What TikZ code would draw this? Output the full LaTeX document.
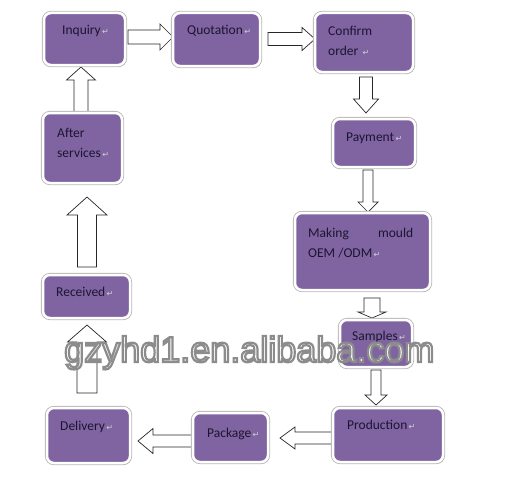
\documentclass[tikz,border=0pt]{standalone}
\usepackage{fontspec}
\setmainfont{Carlito}
\newfontfamily\symfont{DejaVu Sans}
\newfontfamily\wmfont[RawFeature={embolden=6}]{Liberation Sans}
\usetikzlibrary{shadows}
\definecolor{boxpurple}{HTML}{8064A2}
\definecolor{txtcol}{HTML}{1C1530}
\newcommand\retmark{{\symfont\fontsize{8}{8}\selectfont\color{black!18}\,↵}}
\newcommand\barrow[7]{%
  \begin{scope}[shift={(#1,#2)},rotate=#4]
    \draw[blockarrow] (0,-#5) -- ({#3-#7},-#5) -- ({#3-#7},-#6) -- (#3,0)
      -- ({#3-#7},#6) -- ({#3-#7},#5) -- (0,#5) -- cycle;
  \end{scope}}
\tikzset{
  blockarrow/.style={draw=black!85, fill=white, line width=0.7pt, line join=miter},
  box/.style={rectangle, rounded corners=7pt, fill=boxpurple, draw=white, line width=2.5pt,
    inner sep=0pt, outer sep=0pt,
    drop shadow={shadow xshift=1.2pt, shadow yshift=-1.6pt, opacity=.35, fill=black},
    preaction={draw=black!28, line width=4.2pt}},
  txt/.style={anchor=base west, inner sep=0pt, text=txtcol, font=\fontsize{13.5}{20}\selectfont, align=left}
}
\begin{document}
\begin{tikzpicture}[x=1pt,y=-1pt]
\fill[white] (0,0) rectangle (505,487);
\useasboundingbox (0,0) rectangle (505,487);
% block arrows
\barrow{128}{37}{45}{0}{7}{13}{13}
\barrow{268}{39}{47}{0}{6.5}{11.5}{13}
\barrow{366}{77}{36}{-90}{6.5}{12.5}{14}
\barrow{368}{170}{42}{-90}{5}{10}{10}
\barrow{372}{298}{20}{-90}{8}{14}{6}
\barrow{376}{370}{35}{-90}{5}{11}{10}
\barrow{333}{438}{53}{180}{6}{11}{15}
\barrow{193}{441}{55}{180}{6}{12.5}{15}
\barrow{87}{393}{68}{90}{10}{19.5}{17}
\barrow{87}{267}{70}{90}{9.5}{20}{18}
\barrow{81}{112}{45}{90}{7}{14.5}{13}
% boxes
\node[box, minimum width=81pt, minimum height=52pt] (inq) at (84.5,39) {};
\node[box, minimum width=87pt, minimum height=53pt] (quo) at (216.5,39.5) {};
\node[box, minimum width=98pt, minimum height=59pt] (con) at (364,42.5) {};
\node[box, minimum width=82pt, minimum height=48pt] (pay) at (374,143) {};
\node[box, minimum width=135pt, minimum height=77pt] (mak) at (362.5,251.5) {};
\node[box, minimum width=72pt, minimum height=47pt] (sam) at (376,343.5) {};
\node[box, minimum width=110pt, minimum height=54pt] (pro) at (388,435) {};
\node[box, minimum width=75pt, minimum height=49pt] (pac) at (230.5,437.5) {};
\node[box, minimum width=83pt, minimum height=55pt] (del) at (88.5,435.5) {};
\node[box, minimum width=87pt, minimum height=43pt] (rec) at (86.5,296.5) {};
\node[box, minimum width=79pt, minimum height=70pt] (aft) at (82.5,148) {};
% texts
\node[txt] (inq-t) at (62,35) {Inquiry\retmark};
\node[txt] (quo-t) at (187,35) {Quotation\retmark};
\node[txt] (con-t) at (328,56) {Confirm\\order \retmark};
\node[txt] (pay-t) at (346,141) {Payment\retmark};
\node[txt] (mak-t) at (308,257) {\makebox[105pt][l]{Making\hfill mould}\\OEM /ODM\retmark};
\node[txt] (sam-t) at (352,340) {Samples\retmark};
\node[txt] (pro-t) at (347,429) {Production\retmark};
\node[txt] (pac-t) at (207,437) {Package\retmark};
\node[txt] (del-t) at (60,430) {Delivery\retmark};
\node[txt] (rec-t) at (56,296) {Received\retmark};
\node[txt] (aft-t) at (57,157) {After\\services\retmark};
% watermark
\node[anchor=base west, inner sep=0pt] (wm) at (64,362)
  {\wmfont\fontsize{36}{36}\selectfont\color{white}\special{pdf:literal direct 0.55 0.55 0.55 RG}gzyhd1.en.alibaba.com};
\end{tikzpicture}
\end{document}
